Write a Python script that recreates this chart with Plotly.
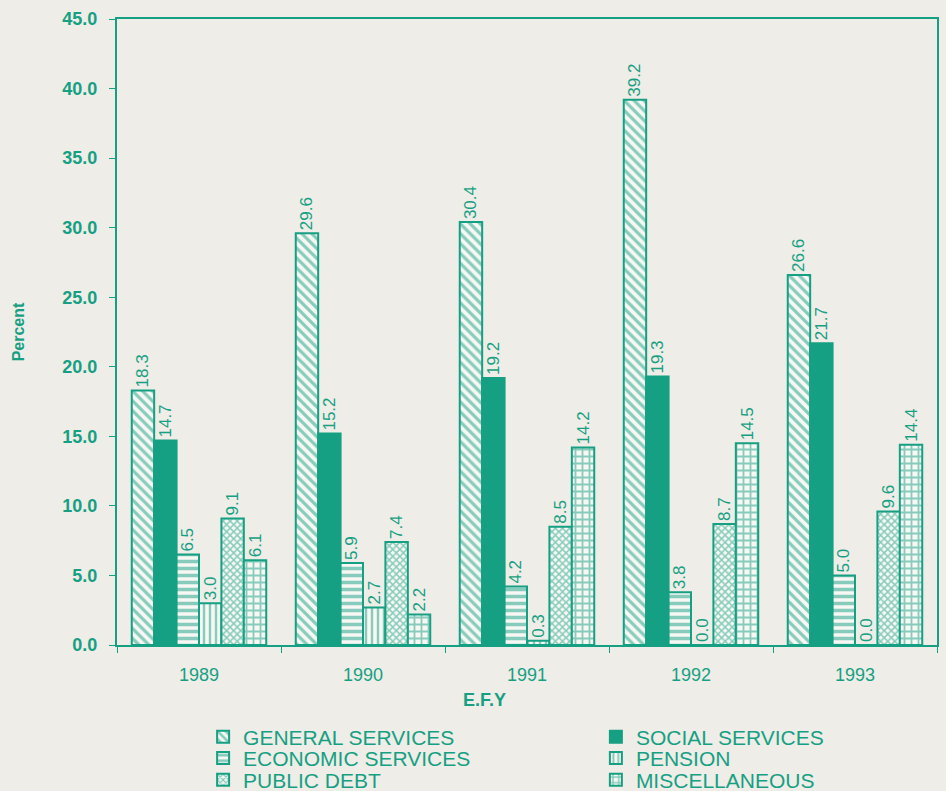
import plotly.graph_objects as go

years = ["1989", "1990", "1991", "1992", "1993"]
general_services = [18.3, 29.6, 30.4, 39.2, 26.6]
social_services = [14.7, 15.2, 19.2, 19.3, 21.7]
economic_services = [6.5, 5.9, 4.2, 3.8, 5.0]
pension = [3.0, 2.7, 0.3, 0.0, 0.0]
public_debt = [9.1, 7.4, 8.5, 8.7, 9.6]
miscellaneous = [6.1, 2.2, 14.2, 14.5, 14.4]

TEAL = "#16a083"
BG = "#efede7"
BARBG = "#f7f7f3"
FONT = "Liberation Sans, Arial"

# name, values, pattern shape, pattern size, solidity, legend id, legend x, legend y
series = [
    ("GENERAL SERVICES", general_services, "\\", 7, 0.45, "legend", 0.105, -0.147),
    ("SOCIAL SERVICES", social_services, None, 0, 0, "legend2", 0.584, -0.147),
    ("ECONOMIC SERVICES", economic_services, "-", 7, 0.5, "legend3", 0.105, -0.181),
    ("PENSION", pension, "|", 6, 0.4, "legend4", 0.584, -0.181),
    ("PUBLIC DEBT", public_debt, "x", 5, 0.5, "legend5", 0.105, -0.216),
    ("MISCELLANEOUS", miscellaneous, "+", 7, 0.45, "legend6", 0.584, -0.216),
]

fig = go.Figure()
legends = {}
for name, vals, shape, size, sol, leg, lx, ly in series:
    if shape is None:
        marker = dict(color=TEAL, line=dict(color=TEAL, width=2))
    else:
        marker = dict(color=BARBG, line=dict(color=TEAL, width=2),
                      pattern=dict(shape=shape, fgcolor=TEAL, bgcolor=BARBG,
                                   size=size, solidity=sol))
    fig.add_trace(go.Bar(
        x=years, y=vals, name=name, marker=marker, legend=leg,
        text=[f"{v:.1f}" for v in vals], textposition="outside",
        textangle=-90, cliponaxis=False, constraintext="none",
        textfont=dict(color=TEAL, size=17, family=FONT),
    ))
    legends[leg] = dict(orientation="v", x=lx, y=ly, xanchor="left", yanchor="middle",
                        font=dict(size=21, color=TEAL, family=FONT),
                        itemwidth=30, bgcolor="rgba(0,0,0,0)", borderwidth=0)

fig.update_layout(
    width=946, height=791,
    paper_bgcolor=BG, plot_bgcolor=BG,
    barmode="group", bargap=0.18, bargroupgap=0,
    margin=dict(l=117, r=9, t=19, b=146, autoexpand=False),
    font=dict(family=FONT, color=TEAL, size=15),
    showlegend=True,
    **legends,
)
fig.add_annotation(
    text="<b>E.F.Y</b>", xref="paper", yref="paper", x=0.4476, y=-0.088,
    xanchor="center", yanchor="middle", showarrow=False,
    font=dict(size=18, color=TEAL, family=FONT),
)
fig.update_yaxes(
    range=[0, 45], dtick=5, tickformat=".1f", showgrid=False, zeroline=False,
    showline=True, linecolor=TEAL, linewidth=2, mirror=True,
    ticks="outside", tickcolor=TEAL, ticklen=6, ticklabelstandoff=8,
    tickfont=dict(size=18, color=TEAL, family=FONT, weight="bold"),
    title=dict(text="<b>Percent</b>", font=dict(size=16, color=TEAL), standoff=34),
)
fig.update_xaxes(
    showgrid=False, showline=True, linecolor=TEAL, linewidth=2, mirror=True,
    ticks="outside", tickson="boundaries", tickcolor=TEAL, ticklen=6,
    ticklabelstandoff=12,
    tickfont=dict(size=18, color=TEAL, family=FONT),
)

fig.write_html("out.html", config={"displayModeBar": False},
               post_script="document.body.style.margin='0';")
